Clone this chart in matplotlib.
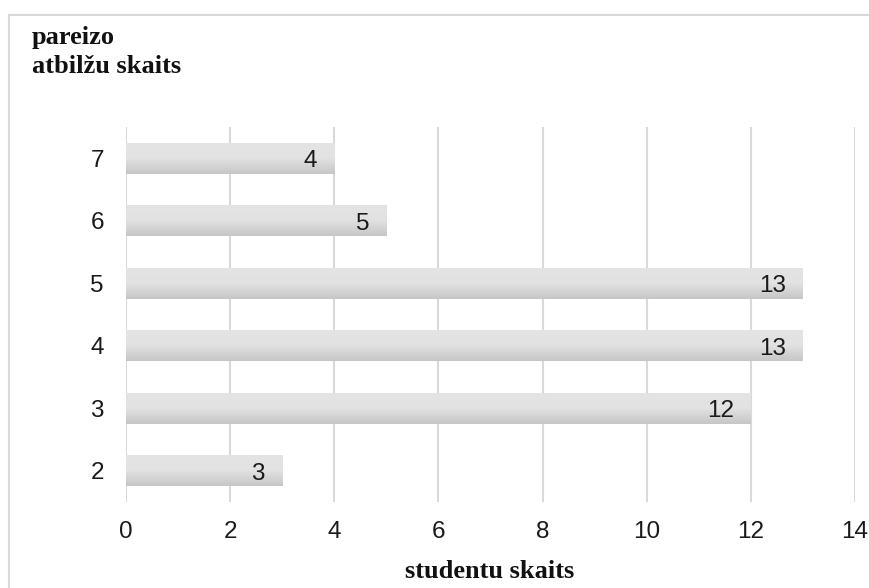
import matplotlib
matplotlib.use("Agg")
import matplotlib.pyplot as plt
import matplotlib.patches as mpatches
from matplotlib.colors import LinearSegmentedColormap
import numpy as np

categories = ["2", "3", "4", "5", "6", "7"]
values = [3, 12, 13, 13, 5, 4]
xticks = [0, 2, 4, 6, 8, 10, 12, 14]

fig = plt.figure(figsize=(8.7, 5.88), dpi=100)
ax = fig.add_axes([126/870, 1-502/588, (855-126)/870, (502-127)/588])

ypos = np.arange(len(categories)) + 2
bars = ax.barh(ypos, values, height=0.5, color="#d9d9d9", zorder=2)

grad = np.linspace(0, 1, 100).reshape(-1, 1)
cmap = LinearSegmentedColormap.from_list("g", ["#c6c6c6", "#e2e2e2", "#e4e4e4"])
for b in bars:
    x0, y0 = b.get_x(), b.get_y()
    w, h = b.get_width(), b.get_height()
    im = ax.imshow(grad, extent=[x0, x0 + w, y0, y0 + h], origin="lower",
                   cmap=cmap, aspect="auto", zorder=3)
    im.set_clip_path(b)

for y, v in zip(ypos, values):
    ax.text(v - 0.33, y - 0.01, str(v), ha="right", va="center_baseline", fontsize=17.5,
            family="Liberation Sans", color="#1a1a1a", zorder=4)

ax.set_xlim(0, 14)
ax.set_ylim(1.5, 7.5)
ax.set_xticks(xticks)
ax.set_xticklabels([str(t) for t in xticks])
ax.set_yticks(ypos)
ax.set_yticklabels(categories)
ax.tick_params(length=0, labelsize=17.5, colors="#1a1a1a")
ax.tick_params(axis="x", pad=14)
ax.tick_params(axis="y", pad=16)
for lab in ax.get_xticklabels() + ax.get_yticklabels():
    lab.set_family("Liberation Sans")
ax.grid(axis="x", color="#d9d9d9", linewidth=1.5, zorder=0)
ax.set_axisbelow(True)
for s in ax.spines.values():
    s.set_visible(False)
ax.set_aspect("auto")

fig.text(32/870, 1-26/588, "pareizo\natbilžu skaits", ha="left", va="top",
         fontsize=19, fontweight="bold", family="Liberation Serif",
         linespacing=1.35, color="#111111")
fig.text(490/870, 1-572/588, "studentu skaits", ha="center", va="center",
         fontsize=19, fontweight="bold", family="Liberation Serif", color="#111111")

fig.patches.append(mpatches.Rectangle((9/870, -0.2), 2, 1-15/588+0.2,
                   transform=fig.transFigure, fill=False,
                   edgecolor="#d9d9d9", linewidth=1.5))

fig.savefig("out.png", dpi=100)
